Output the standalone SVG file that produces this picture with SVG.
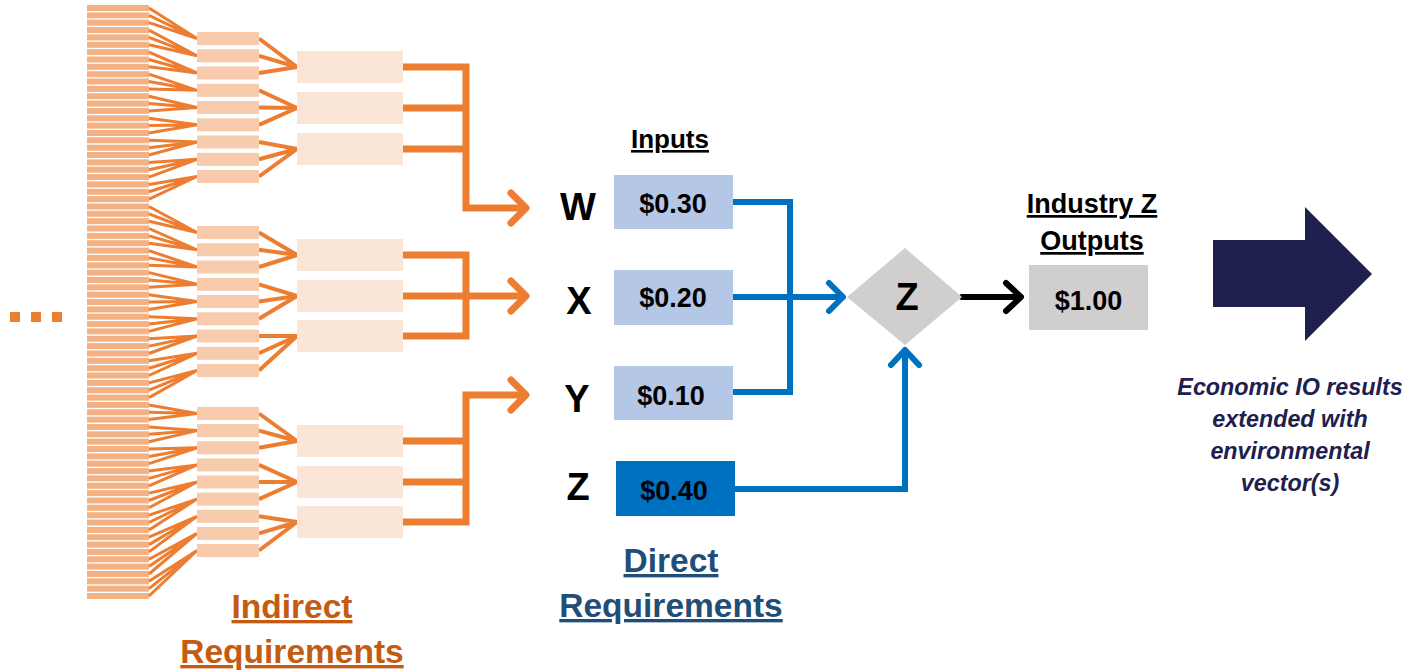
<svg xmlns="http://www.w3.org/2000/svg" width="1406" height="671" viewBox="0 0 1406 671">
<style>
.bar{fill:#F4B183}
.mid{fill:#F8CBAD}
.big{fill:#FBE5D6}
.fan1{stroke:#ED7D31;stroke-width:3;fill:none}
.fan2{stroke:#ED7D31;stroke-width:4;fill:none}
.oc{stroke:#ED7D31;stroke-width:7;fill:none;stroke-linejoin:miter}
.oh{stroke:#ED7D31;stroke-width:7;fill:none;stroke-linecap:round;stroke-linejoin:round}
.bc{stroke:#0070C0;stroke-width:6;fill:none}
.bh{stroke:#0070C0;stroke-width:6;fill:none;stroke-linecap:round;stroke-linejoin:round}
.kc{stroke:#000;stroke-width:6;fill:none;stroke-linecap:round;stroke-linejoin:round}
text{font-family:"Liberation Sans",Arial,sans-serif;font-weight:bold;text-anchor:middle}
.lbl{font-size:38px;fill:#000}
.val{font-size:27px;fill:#000}
.hdr{font-size:26px;fill:#000;text-decoration:underline}
.hdr2{font-size:27px;fill:#000;text-decoration:underline}
.dr{font-size:33.5px;fill:#1F4E79;text-decoration:underline}
.ir{font-size:33.5px;fill:#C55A11;text-decoration:underline}
.nv{font-size:23.3px;fill:#20204F;font-style:italic}
</style>
<g id="bars">
<rect class="bar" x="87" y="5" width="62" height="6"/><rect class="bar" x="87" y="12.4" width="62" height="6"/><rect class="bar" x="87" y="19.7" width="62" height="6"/>
<rect class="bar" x="87" y="27.1" width="62" height="6"/><rect class="bar" x="87" y="34.4" width="62" height="6"/><rect class="bar" x="87" y="41.8" width="62" height="6"/>
<rect class="bar" x="87" y="49.1" width="62" height="6"/><rect class="bar" x="87" y="56.5" width="62" height="6"/><rect class="bar" x="87" y="63.8" width="62" height="6"/>
<rect class="bar" x="87" y="71.2" width="62" height="6"/><rect class="bar" x="87" y="78.5" width="62" height="6"/><rect class="bar" x="87" y="85.9" width="62" height="6"/>
<rect class="bar" x="87" y="93.2" width="62" height="6"/><rect class="bar" x="87" y="100.6" width="62" height="6"/><rect class="bar" x="87" y="107.9" width="62" height="6"/>
<rect class="bar" x="87" y="115.3" width="62" height="6"/><rect class="bar" x="87" y="122.6" width="62" height="6"/><rect class="bar" x="87" y="130" width="62" height="6"/>
<rect class="bar" x="87" y="137.3" width="62" height="6"/><rect class="bar" x="87" y="144.7" width="62" height="6"/><rect class="bar" x="87" y="152" width="62" height="6"/>
<rect class="bar" x="87" y="159.4" width="62" height="6"/><rect class="bar" x="87" y="166.7" width="62" height="6"/><rect class="bar" x="87" y="174.1" width="62" height="6"/>
<rect class="bar" x="87" y="181.4" width="62" height="6"/><rect class="bar" x="87" y="188.8" width="62" height="6"/><rect class="bar" x="87" y="196.1" width="62" height="6"/>
<rect class="bar" x="87" y="203.5" width="62" height="6"/><rect class="bar" x="87" y="210.8" width="62" height="6"/><rect class="bar" x="87" y="218.2" width="62" height="6"/>
<rect class="bar" x="87" y="225.5" width="62" height="6"/><rect class="bar" x="87" y="232.9" width="62" height="6"/><rect class="bar" x="87" y="240.2" width="62" height="6"/>
<rect class="bar" x="87" y="247.6" width="62" height="6"/><rect class="bar" x="87" y="254.9" width="62" height="6"/><rect class="bar" x="87" y="262.3" width="62" height="6"/>
<rect class="bar" x="87" y="269.6" width="62" height="6"/><rect class="bar" x="87" y="277" width="62" height="6"/><rect class="bar" x="87" y="284.3" width="62" height="6"/>
<rect class="bar" x="87" y="291.7" width="62" height="6"/><rect class="bar" x="87" y="299" width="62" height="6"/><rect class="bar" x="87" y="306.4" width="62" height="6"/>
<rect class="bar" x="87" y="313.7" width="62" height="6"/><rect class="bar" x="87" y="321.1" width="62" height="6"/><rect class="bar" x="87" y="328.4" width="62" height="6"/>
<rect class="bar" x="87" y="335.8" width="62" height="6"/><rect class="bar" x="87" y="343.1" width="62" height="6"/><rect class="bar" x="87" y="350.5" width="62" height="6"/>
<rect class="bar" x="87" y="357.8" width="62" height="6"/><rect class="bar" x="87" y="365.2" width="62" height="6"/><rect class="bar" x="87" y="372.5" width="62" height="6"/>
<rect class="bar" x="87" y="379.9" width="62" height="6"/><rect class="bar" x="87" y="387.2" width="62" height="6"/><rect class="bar" x="87" y="394.6" width="62" height="6"/>
<rect class="bar" x="87" y="401.9" width="62" height="6"/><rect class="bar" x="87" y="409.3" width="62" height="6"/><rect class="bar" x="87" y="416.6" width="62" height="6"/>
<rect class="bar" x="87" y="424" width="62" height="6"/><rect class="bar" x="87" y="431.3" width="62" height="6"/><rect class="bar" x="87" y="438.7" width="62" height="6"/>
<rect class="bar" x="87" y="446" width="62" height="6"/><rect class="bar" x="87" y="453.4" width="62" height="6"/><rect class="bar" x="87" y="460.7" width="62" height="6"/>
<rect class="bar" x="87" y="468.1" width="62" height="6"/><rect class="bar" x="87" y="475.4" width="62" height="6"/><rect class="bar" x="87" y="482.8" width="62" height="6"/>
<rect class="bar" x="87" y="490.1" width="62" height="6"/><rect class="bar" x="87" y="497.5" width="62" height="6"/><rect class="bar" x="87" y="504.8" width="62" height="6"/>
<rect class="bar" x="87" y="512.2" width="62" height="6"/><rect class="bar" x="87" y="519.5" width="62" height="6"/><rect class="bar" x="87" y="526.9" width="62" height="6"/>
<rect class="bar" x="87" y="534.2" width="62" height="6"/><rect class="bar" x="87" y="541.6" width="62" height="6"/><rect class="bar" x="87" y="548.9" width="62" height="6"/>
<rect class="bar" x="87" y="556.3" width="62" height="6"/><rect class="bar" x="87" y="563.6" width="62" height="6"/><rect class="bar" x="87" y="571" width="62" height="6"/>
<rect class="bar" x="87" y="578.3" width="62" height="6"/><rect class="bar" x="87" y="585.7" width="62" height="6"/><rect class="bar" x="87" y="593" width="62" height="6"/>
</g>
<g id="connectors">
<path class="fan1" d="M149 8L197 38.5M149 15.4L197 38.5M149 22.7L197 38.5
M149 30.1L197 55.8M149 37.4L197 55.8M149 44.8L197 55.8
M149 52.1L197 73M149 59.5L197 73M149 66.8L197 73
M149 74.2L197 90.3M149 81.5L197 90.3M149 88.9L197 90.3
M149 96.2L197 107.5M149 103.6L197 107.5M149 110.9L197 107.5
M149 118.3L197 124.8M149 125.6L197 124.8M149 133L197 124.8
M149 140.3L197 142M149 147.7L197 142M149 155L197 142
M149 162.4L197 159.3M149 169.7L197 159.3M149 177.1L197 159.3
M149 184.4L197 176.5M149 191.8L197 176.5M149 199.1L197 176.5
M149 206.5L197 232.5M149 213.8L197 232.5M149 221.2L197 232.5
M149 228.5L197 249.8M149 235.9L197 249.8M149 243.2L197 249.8
M149 250.6L197 267M149 257.9L197 267M149 265.3L197 267
M149 272.6L197 284.3M149 280L197 284.3M149 287.3L197 284.3
M149 294.7L197 301.5M149 302L197 301.5M149 309.4L197 301.5
M149 316.7L197 318.8M149 324.1L197 318.8M149 331.4L197 318.8
M149 338.8L197 336M149 346.1L197 336M149 353.5L197 336
M149 360.8L197 353.3M149 368.2L197 353.3M149 375.5L197 353.3
M149 382.9L197 370.5M149 390.2L197 370.5M149 397.6L197 370.5
M149 404.9L197 413.5M149 412.3L197 413.5M149 419.6L197 413.5
M149 427L197 430.6M149 434.3L197 430.6M149 441.7L197 430.6
M149 449L197 447.8M149 456.4L197 447.8M149 463.7L197 447.8
M149 471.1L197 464.9M149 478.4L197 464.9M149 485.8L197 464.9
M149 493.1L197 482M149 500.5L197 482M149 507.8L197 482
M149 515.2L197 499.1M149 522.5L197 499.1M149 529.9L197 499.1
M149 537.2L197 516.3M149 544.6L197 516.3M149 551.9L197 516.3
M149 559.3L197 533.4M149 566.6L197 533.4M149 574L197 533.4
M149 581.3L197 550.5M149 588.7L197 550.5M149 596L197 550.5"/>
<path class="fan2" d="M259 38.5L297 67M259 55.8L297 67M259 73L297 67
M259 90.3L297 108M259 107.5L297 108M259 124.8L297 108
M259 142L297 149M259 159.3L297 149M259 176.5L297 149
M259 232.5L297 255M259 249.8L297 255M259 267L297 255
M259 284.3L297 296M259 301.5L297 296M259 318.8L297 296
M259 336L297 336M259 353.3L297 336M259 370.5L297 336
M259 413.5L297 441M259 430.6L297 441M259 447.8L297 441
M259 464.9L297 482M259 482L297 482M259 499.1L297 482
M259 516.3L297 522M259 533.4L297 522M259 550.5L297 522"/>
<path class="oc" d="M403 67H466V208H522M403 108H466M403 149H466"/>
<path class="oh" d="M511 193L526 208L511 223"/>
<path class="oc" d="M403 255H466V336H403M403 296H522"/>
<path class="oh" d="M511 281L526 296L511 311"/>
<path class="oc" d="M403 522H466V395H522M403 441H466M403 482H466"/>
<path class="oh" d="M511 380L526 395L511 410"/>
<path class="bc" d="M733 202H790V392H733"/>
<path class="bc" d="M733 297H840"/>
<path class="bh" d="M829 283L843 297L829 311"/>
<path class="bc" d="M735 489H905V353"/>
<path class="bh" d="M891 365L905 350L919 365"/>
<path class="kc" d="M962 297H1019"/>
<path class="kc" d="M1006 283L1021 297L1006 311"/>
</g>
<g id="indirect-boxes">
<rect class="mid" x="197" y="32" width="62" height="13"/><rect class="mid" x="197" y="49.3" width="62" height="13"/><rect class="mid" x="197" y="66.5" width="62" height="13"/>
<rect class="mid" x="197" y="83.8" width="62" height="13"/><rect class="mid" x="197" y="101" width="62" height="13"/><rect class="mid" x="197" y="118.3" width="62" height="13"/>
<rect class="mid" x="197" y="135.5" width="62" height="13"/><rect class="mid" x="197" y="152.8" width="62" height="13"/><rect class="mid" x="197" y="170" width="62" height="13"/>
<rect class="mid" x="197" y="226" width="62" height="13"/><rect class="mid" x="197" y="243.3" width="62" height="13"/><rect class="mid" x="197" y="260.5" width="62" height="13"/>
<rect class="mid" x="197" y="277.8" width="62" height="13"/><rect class="mid" x="197" y="295" width="62" height="13"/><rect class="mid" x="197" y="312.3" width="62" height="13"/>
<rect class="mid" x="197" y="329.5" width="62" height="13"/><rect class="mid" x="197" y="346.8" width="62" height="13"/><rect class="mid" x="197" y="364" width="62" height="13"/>
<rect class="mid" x="197" y="407" width="62" height="13"/><rect class="mid" x="197" y="424.1" width="62" height="13"/><rect class="mid" x="197" y="441.3" width="62" height="13"/>
<rect class="mid" x="197" y="458.4" width="62" height="13"/><rect class="mid" x="197" y="475.5" width="62" height="13"/><rect class="mid" x="197" y="492.6" width="62" height="13"/>
<rect class="mid" x="197" y="509.8" width="62" height="13"/><rect class="mid" x="197" y="526.9" width="62" height="13"/><rect class="mid" x="197" y="544" width="62" height="13"/>
<rect class="big" x="297" y="51" width="106" height="32"/><rect class="big" x="297" y="92" width="106" height="32"/><rect class="big" x="297" y="133" width="106" height="32"/>
<rect class="big" x="297" y="239" width="106" height="32"/><rect class="big" x="297" y="280" width="106" height="32"/><rect class="big" x="297" y="320" width="106" height="32"/>
<rect class="big" x="297" y="425" width="106" height="32"/><rect class="big" x="297" y="466" width="106" height="32"/><rect class="big" x="297" y="506" width="106" height="32"/>
</g>
<g id="ellipsis" fill="#ED7D31">
<rect x="10" y="312" width="10" height="10"/><rect x="31" y="312" width="10" height="10"/><rect x="52" y="312" width="10" height="10"/>
</g>
<g id="indirect-label">
<text class="ir" x="292" y="618">Indirect</text>
<text class="ir" x="292" y="663">Requirements</text>
</g>
<g id="inputs-header"><text class="hdr" x="670" y="148">Inputs</text></g>
<g id="input-W">
<text class="lbl" x="578" y="220">W</text>
<rect x="614" y="175" width="119" height="54" fill="#B4C7E7"/>
<text class="val" x="673" y="213">$0.30</text>
</g>
<g id="input-X">
<text class="lbl" x="579" y="314">X</text>
<rect x="614" y="270" width="119" height="55" fill="#B4C7E7"/>
<text class="val" x="673" y="307">$0.20</text>
</g>
<g id="input-Y">
<text class="lbl" x="577" y="412">Y</text>
<rect x="614" y="366" width="119" height="54" fill="#B4C7E7"/>
<text class="val" x="671" y="405">$0.10</text>
</g>
<g id="input-Z">
<text class="lbl" x="578" y="500">Z</text>
<rect x="616" y="461" width="119" height="55" fill="#0070C0"/>
<text class="val" x="674" y="500">$0.40</text>
</g>
<g id="direct-label">
<text class="dr" x="671" y="572">Direct</text>
<text class="dr" x="671" y="617">Requirements</text>
</g>
<g id="industry-Z">
<polygon points="847,297 905,248 962,297 905,345" fill="#D0CECE"/>
<text class="lbl" x="907" y="310">Z</text>
</g>
<g id="outputs">
<text class="hdr2" x="1092" y="213">Industry Z</text>
<text class="hdr2" x="1092" y="250">Outputs</text>
<rect x="1029" y="265" width="119" height="65" fill="#D0CECE"/>
<text class="val" x="1088.5" y="310">$1.00</text>
</g>
<g id="extension">
<polygon points="1213,240 1305,240 1305,207 1372,274 1305,341 1305,307 1213,307" fill="#20204F"/>
<text class="nv" x="1290" y="395">Economic IO results</text>
<text class="nv" x="1290" y="427">extended with</text>
<text class="nv" x="1290" y="459">environmental</text>
<text class="nv" x="1290" y="491">vector(s)</text>
</g>
</svg>
